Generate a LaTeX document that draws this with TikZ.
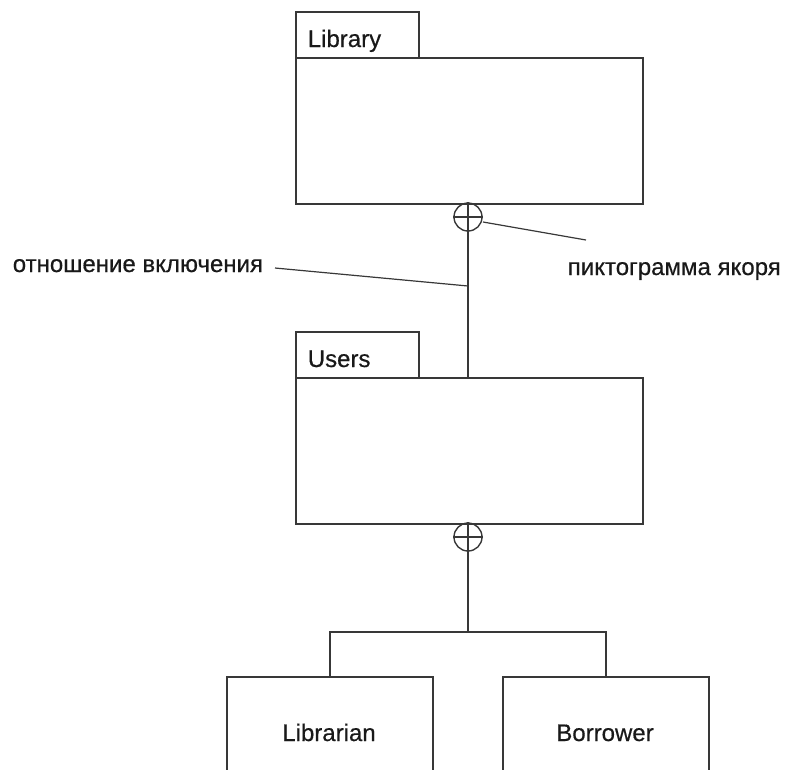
\documentclass[tikz,border=0pt]{standalone}
\usepackage{fontspec}
\newfontfamily\lblfont{Liberation Sans}[FakeBold=0.5]
\begin{document}
\begin{tikzpicture}[x=1pt,y=-1pt,
  line width=1.6pt,
  color=black!78,
  pkgtab/.style={draw,line width=1.6pt,minimum width=123pt,minimum height=46pt,inner sep=0pt,anchor=north west},
  pkgbody/.style={draw,line width=1.6pt,minimum width=347pt,minimum height=146pt,inner sep=0pt,anchor=north west},
  classbox/.style={draw,line width=1.6pt,minimum width=206pt,minimum height=100pt,inner sep=0pt,anchor=north west},
  anchorsym/.style={circle,draw,line width=1.4pt,minimum size=28pt,inner sep=0pt},
  lbl/.style={font=\lblfont\fontsize{24}{28}\selectfont,text=black!90,inner sep=0pt}
]
\useasboundingbox (0,0) rectangle (791,769);
\clip (0,0) rectangle (791,769);

% package Library
\node[pkgtab] (libtab) at (295,11) {};
\node[pkgbody] (lib) at (295,57) {};
\node[lbl,anchor=base west] (libname) at (307,47) {Library};

% package Users
\node[pkgtab] (usrtab) at (295,331) {};
\node[pkgbody] (usr) at (295,377) {};
\node[lbl,anchor=base west] (usrname) at (307,367) {Users};

% containment anchors
\node[anchorsym] (a1) at (468,217) {};
\draw[line width=1.2pt] (a1.north) -- (a1.south) (a1.west) -- (a1.east);
\node[anchorsym] (a2) at (468,537) {};
\draw[line width=1.2pt] (a2.north) -- (a2.south) (a2.west) -- (a2.east);

% Library contains Users
\draw (a1.south) -- (a1.south |- usr.north);

% Users contains Librarian and Borrower
\node[classbox] (libr) at (226,676) {};
\node[classbox] (borr) at (502,676) {};
\node[lbl,anchor=base] (librname) at (329,741) {Librarian};
\node[lbl,anchor=base] (borrname) at (605,741) {Borrower};
\coordinate (split) at (468,632);
\draw (a2.south) -- (split);
\draw (libr.north) |- (split) -| (borr.north);

% annotations
\node[lbl,anchor=base west] (incl) at (12,272) {отношение включения};
\node[lbl,anchor=base west] (anch) at (567,275) {пиктограмма якоря};
\coordinate (inclend) at (468,286);
\coordinate (inclstart) at (275,268);
\draw[line width=1.2pt] (inclstart) -- (inclend);
\coordinate (anchstart) at (483,222);
\coordinate (anchend) at (586,240);
\draw[line width=1.2pt] (anchstart) -- (anchend);
\end{tikzpicture}
\end{document}
